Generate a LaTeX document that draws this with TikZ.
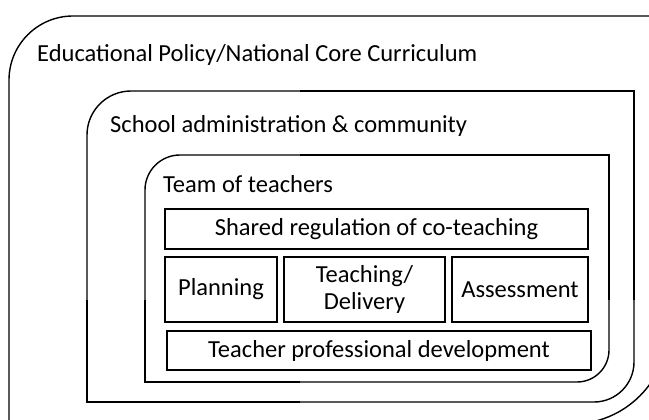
\documentclass[tikz,border=0pt]{standalone}
\usepackage{fontspec}
\setmainfont{Carlito}
\usetikzlibrary{positioning}

\begin{document}
\begin{tikzpicture}[x=1pt,y=-1pt]
	 \tikzstyle{frame}=[draw,line width=1.4pt,black]
	 \tikzstyle{box}=[draw,line width=1.4pt,black,rectangle,inner sep=0pt,align=center,font=\fontsize{24.5}{27}\selectfont]
	 \tikzstyle{label}=[anchor=base west,inner sep=0pt,font=\fontsize{24.5}{27}\selectfont]

	 \useasboundingbox (0,0) rectangle (649,420);
	 \clip (0,0) rectangle (649,420);

	 % outer frame (policy)
	 \draw[frame,rounded corners=64] (9,440) -- (9,16) -- (700,16);
	 \draw[frame,rounded corners=96] (668,250) -- (668,424) -- (450,424);
	 % middle frame (school)
	 \draw[frame,rounded corners=44] (87,300) -- (87,91) -- (300,91);
	 \draw[frame] (300,91) -- (634,91) -- (634,300);
	 \draw[frame,rounded corners=40] (634,300) -- (634,402) -- (300,402);
	 \draw[frame] (300,402) -- (87,402) -- (87,300);
	 % inner frame (team)
	 \draw[frame,rounded corners=35] (145,300) -- (145,155) -- (300,155);
	 \draw[frame] (300,155) -- (609,155) -- (609,300);
	 \draw[frame,rounded corners=32] (609,300) -- (609,382) -- (300,382);
	 \draw[frame] (300,382) -- (145,382) -- (145,300);

	 \node[label] (policy) at (37,62) {Educational Policy/National Core Curriculum};
	 \node[label] (school) at (110,132) {School administration \& community};
	 \node[label] (team) at (163,193) {Team of teachers};

	 \node[box,minimum width=423,minimum height=40] (shared) at (376.5,229) {Shared regulation of co-teaching};
	 \node[box,minimum width=112,minimum height=65] (planning) at (221,289.5) {Planning};
	 \node[box,minimum width=161,minimum height=65] (teaching) at (364.5,289.5) {Teaching/\\Delivery};
	 \node[box,minimum width=136,minimum height=65] (assessment) at (520,289.5) {Assessment};
	 \node[box,minimum width=424,minimum height=39] (development) at (379,350.5) {Teacher professional development};
\end{tikzpicture}
\end{document}
